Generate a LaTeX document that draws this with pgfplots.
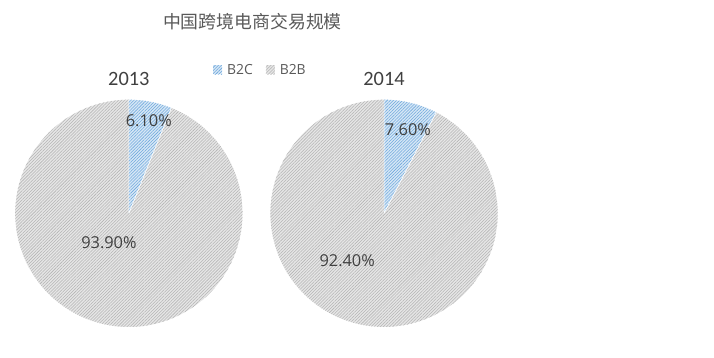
\documentclass[border=0pt]{standalone}
\usepackage{pgfplots}
\pgfplotsset{compat=1.18}
\usepackage{pgfplotstable}
\usetikzlibrary{patterns.meta}
\usepackage{fontspec}
\setmainfont{Open Sans}
\newfontfamily\cjkfont{Noto Sans CJK SC}
\newfontfamily\yearfont{Carlito}
\definecolor{bluefill}{HTML}{D6E7F6}
\definecolor{blueline}{HTML}{6FA8DC}
\definecolor{grayfill}{HTML}{E6E6E6}
\definecolor{grayline}{HTML}{B4B4B4}
\definecolor{txt}{HTML}{404040}
\definecolor{ttl}{HTML}{595959}
\pgfplotstableread{
year b2c b2b cx cy
2013 6.1 93.9 127 145
2014 7.6 92.4 383 145
}\piedata
\pgfplotstablegetelem{0}{b2c}\of\piedata \let\aA=\pgfplotsretval
\pgfplotstablegetelem{1}{b2c}\of\piedata \let\aB=\pgfplotsretval
\pgfmathsetmacro{\endA}{90-3.6*\aA}
\pgfmathsetmacro{\endB}{90-3.6*\aB}
\tikzset{
  b2c/.style={draw=none, fill=bluefill, postaction={pattern={Lines[angle=45,distance=2.2pt,line width=0.55pt]}, pattern color=blueline}},
  b2b/.style={draw=none, fill=grayfill, postaction={pattern={Lines[angle=45,distance=2.2pt,line width=0.55pt]}, pattern color=grayline}},
}
\begin{document}
\begin{tikzpicture}
\begin{axis}[
  x=1bp, y=1bp, xmin=0, xmax=714, ymin=0, ymax=359,
  axis lines=none, clip=false, scale only axis,
  legend columns=2,
  legend style={draw=none, fill=none, at={(axis cs:259,289)}, anchor=center,
    font=\fontsize{14}{16}\selectfont\color{ttl}, column sep=3bp,
    /tikz/every even column/.append style={column sep=11bp}},
  legend image code/.code={\path[#1] (0bp,-4.5bp) rectangle (9bp,4.5bp);},
]
\addlegendimage{b2c}
\addlegendentry{B2C}
\addlegendimage{b2b}
\addlegendentry{B2B}
% pie 2013
\path[b2b] (axis cs:127,145) -- ++(\endA:114bp) arc[start angle=\endA, end angle=-270, radius=114bp] -- cycle;
\path[b2c] (axis cs:127,145) -- ++(90:114bp) arc[start angle=90, end angle=\endA, radius=114bp] -- cycle;
\draw[white, line width=0.6bp] (axis cs:127,145) -- ++(90:114bp) (axis cs:127,145) -- ++(\endA:114bp);
% pie 2014
\path[b2b] (axis cs:383,145) -- ++(\endB:114bp) arc[start angle=\endB, end angle=-270, radius=114bp] -- cycle;
\path[b2c] (axis cs:383,145) -- ++(90:114bp) arc[start angle=90, end angle=\endB, radius=114bp] -- cycle;
\draw[white, line width=0.6bp] (axis cs:383,145) -- ++(90:114bp) (axis cs:383,145) -- ++(\endB:114bp);
% labels
\node[txt, font=\fontsize{16.5}{19}\selectfont] at (axis cs:147,238) {6.10\%};
\node[txt, font=\fontsize{16.5}{19}\selectfont] at (axis cs:107,116) {93.90\%};
\node[txt, font=\fontsize{16.5}{19}\selectfont] at (axis cs:407,229) {7.60\%};
\node[txt, font=\fontsize{16.5}{19}\selectfont] at (axis cs:346,97) {92.40\%};
\node[txt, font=\yearfont\fontsize{20.5}{24}\selectfont] at (axis cs:127,280) {2013};
\node[txt, font=\yearfont\fontsize{20.5}{24}\selectfont] at (axis cs:383,280) {2014};
\node[ttl, font=\cjkfont\fontsize{18}{21}\selectfont] at (axis cs:251,337) {中国跨境电商交易规模};
\end{axis}
\useasboundingbox (0,0) rectangle (714bp,359bp);
\end{tikzpicture}
\end{document}
